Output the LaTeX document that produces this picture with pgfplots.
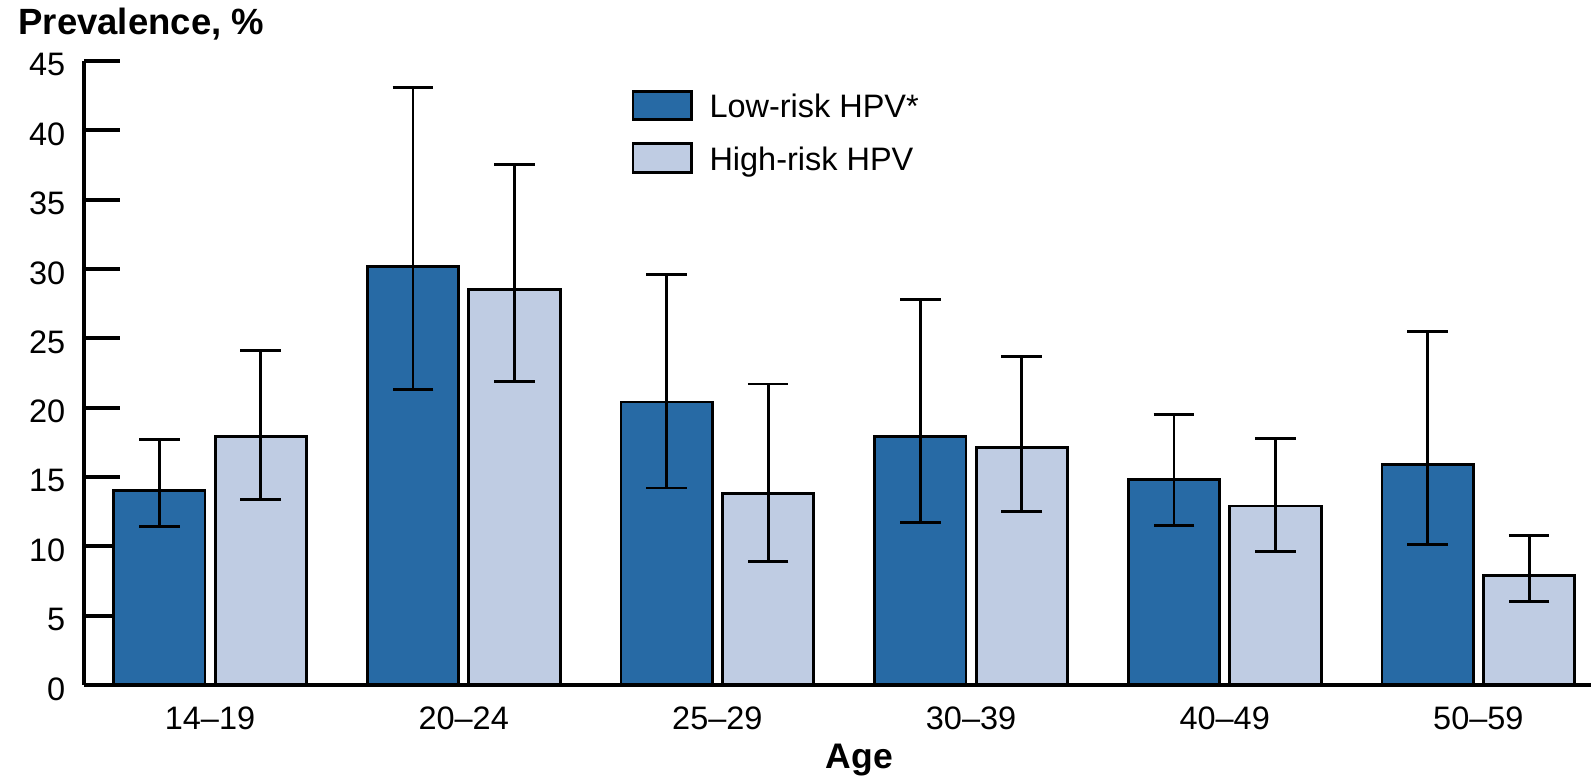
\documentclass[border=0pt]{standalone}
\usepackage{fontspec}
\setmainfont{Liberation Sans}
\usepackage{pgfplots}
\usepackage{pgfplotstable}
\pgfplotsset{compat=1.18}
\definecolor{lowrisk}{HTML}{276AA5}
\definecolor{highrisk}{HTML}{BFCCE3}

\pgfplotstableread{
x y ep em
0 14.0 3.7 2.6
1 30.2 12.9 8.9
2 20.4 9.2 6.2
3 17.9 9.9 6.2
4 14.8 4.7 3.3
5 15.9 9.6 5.8
}\lowdata
\pgfplotstableread{
x y ep em
0 17.9 6.2 4.5
1 28.5 9.0 6.6
2 13.8 7.9 4.9
3 17.1 6.6 4.6
4 12.9 4.9 3.3
5 7.9 2.9 1.9
}\highdata

\begin{document}
\begin{tikzpicture}
\useasboundingbox (-41.5pt,-46.5pt) rectangle (742.5pt,337.5pt);
\begin{axis}[
  scale only axis,
  width=742.5pt, height=307.5pt,
  xmin=-0.496, xmax=5.444,
  ymin=0, ymax=45,
  axis lines*=left,
  axis line style={line width=2pt, black},
  ytick={0,5,...,45},
  xtick={0,1,2,3,4,5},
  xticklabels={14--19,20--24,25--29,30--39,40--49,50--59},
  x tick style={draw=none},
  y tick style={line width=2pt, black},
  tick align=inside,
  major tick length=17.5pt,
  /pgf/number format/assume math mode=true,
  tick label style={font=\fontsize{16}{18}\selectfont},
  yticklabel style={anchor=east, xshift=-5.8pt, yshift=-2pt},
  xticklabel style={anchor=center, yshift=1pt},
  ybar, bar width=0.36,
  legend style={at={(rel axis cs:0.363,0.954)}, anchor=north west,
    draw=none, fill=none, inner sep=0pt, row sep=8.5pt,
    font=\fontsize{16}{18}\selectfont, cells={anchor=west},
    /tikz/every odd column/.append style={column sep=6pt}},
  legend image code/.code={\draw[#1,/tikz/.cd] (0pt,-6pt) rectangle (29pt,8pt);},
  clip=false,
]
\addplot[fill=lowrisk, draw=black, line width=1.4pt, bar shift=-0.2,
  error bars/.cd, y dir=both, y explicit,
  error bar style={line width=1.4pt, black},
  error mark options={line width=1.4pt, black, mark size=10pt, rotate=90}]
  table[x=x, y=y, y error plus=ep, y error minus=em] {\lowdata};
\addplot[fill=highrisk, draw=black, line width=1.4pt, bar shift=0.2,
  error bars/.cd, y dir=both, y explicit,
  error bar style={line width=1.4pt, black},
  error mark options={line width=1.4pt, black, mark size=10pt, rotate=90}]
  table[x=x, y=y, y error plus=ep, y error minus=em] {\highdata};
\legend{Low-risk HPV*, High-risk HPV}
\node[anchor=base west, inner sep=0pt, font=\fontsize{18}{20}\selectfont\bfseries]
  at (rel axis cs:0,1) [xshift=-32.6pt, yshift=13.25pt] {Prevalence, \%};
\node[anchor=base, inner sep=0pt, font=\fontsize{17.5}{19}\selectfont\bfseries]
  at (rel axis cs:0.5145,0) [yshift=-41pt] {Age};
\end{axis}
\end{tikzpicture}
\end{document}
